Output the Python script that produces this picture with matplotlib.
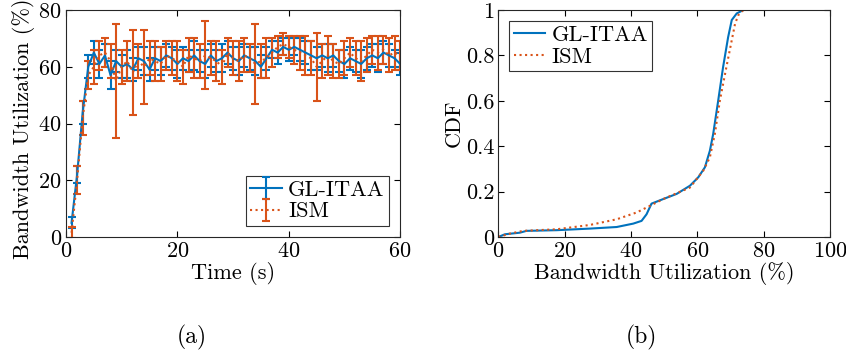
import matplotlib
matplotlib.use('Agg')
import matplotlib.pyplot as plt
from matplotlib.ticker import FormatStrFormatter

plt.rcParams['font.family'] = ['cmr10', 'DejaVu Serif']
plt.rcParams['mathtext.fontset'] = 'cm'
plt.rcParams['axes.formatter.use_mathtext'] = True
plt.rcParams['font.size'] = 16

BLUE = '#0072BD'
ORANGE = '#D95319'

# (a) bandwidth utilization over time
time_s = list(range(1, 61))
gl_mean = [5, 22, 44, 60, 65, 61, 64, 57, 62, 60, 61, 59, 63, 62, 59, 63, 62, 64, 63, 61,
           63, 62, 64, 62, 61, 64, 62, 63, 65, 63, 62, 64, 63, 62, 60, 63, 66, 65, 67, 66,
           67, 66, 65, 64, 63, 64, 63, 64, 62, 61, 63, 62, 61, 63, 64, 63, 65, 64, 63, 61]
gl_err = [2, 3, 4, 4, 4, 5, 4, 5, 4, 4, 5, 4, 4, 5, 4, 4, 5, 4, 4, 5,
          4, 4, 5, 4, 5, 4, 4, 5, 4, 4, 5, 4, 4, 5, 4, 4, 3, 4, 3, 4,
          3, 4, 4, 5, 4, 4, 5, 4, 4, 5, 4, 4, 5, 4, 4, 5, 4, 4, 3, 4]
ism_mean = [1.5, 20, 42, 57, 60, 64, 65, 62, 55, 60, 62, 58, 62, 60, 63, 62, 61, 64, 63, 62,
            60, 64, 63, 62, 64, 63, 62, 60, 65, 63, 62, 64, 63, 61, 62, 63, 65, 67, 68, 67,
            66, 65, 64, 63, 60, 62, 64, 62, 61, 63, 65, 63, 62, 64, 66, 65, 66, 64, 65, 64]
ism_err = [2, 5, 6, 5, 6, 5, 5, 6, 20, 6, 7, 15, 6, 13, 6, 7, 6, 5, 6, 7,
           6, 6, 7, 6, 12, 6, 7, 6, 5, 6, 7, 6, 5, 14, 6, 7, 5, 4, 4, 4,
           5, 6, 7, 6, 12, 6, 7, 6, 5, 6, 5, 6, 7, 6, 5, 6, 5, 6, 6, 5]

# (b) CDF of bandwidth utilization
gl_cdf_x = [0, 2, 6.5, 8.5, 17.6, 27.6, 35.7, 40.7, 43.2, 44.7, 46.2, 49.7, 53.8, 57.8,
            60.3, 62.3, 63.8, 64.8, 66.3, 67.8, 69.3, 70.4, 71.9, 73.9]
gl_cdf_y = [0, 0.012, 0.019, 0.027, 0.03, 0.037, 0.044, 0.059, 0.071, 0.1, 0.147, 0.167,
            0.19, 0.226, 0.263, 0.307, 0.38, 0.454, 0.6, 0.75, 0.88, 0.956, 0.985, 1.0]
ism_cdf_x = [0, 3.5, 7.5, 17.6, 27.6, 35.7, 41.7, 45.7, 49.7, 57.8, 61.8, 63.8, 65.3,
             66.8, 68.8, 70.4, 71.4, 72.4, 73.9]
ism_cdf_y = [0, 0.015, 0.027, 0.034, 0.053, 0.078, 0.108, 0.137, 0.167, 0.218, 0.292,
             0.351, 0.454, 0.6, 0.75, 0.867, 0.94, 0.978, 1.0]

fig = plt.figure(figsize=(8.46, 3.58), dpi=100)
ax1 = fig.add_axes([0.078, 0.338, 0.395, 0.634])
ax2 = fig.add_axes([0.589, 0.338, 0.392, 0.634])

ax1.errorbar(time_s, gl_mean, yerr=gl_err, color=BLUE, lw=1.5, capsize=3,
             elinewidth=1.5, capthick=1.5, label='GL-ITAA')
ax1.errorbar(time_s, ism_mean, yerr=ism_err, color=ORANGE, ls=':', lw=1.5, capsize=3,
             elinewidth=1.5, capthick=1.5, label='ISM')
ax1.set_xlim(0, 60)
ax1.set_ylim(0, 80)
ax1.set_xticks([0, 20, 40, 60])
ax1.set_yticks([0, 20, 40, 60, 80])
ax1.set_xlabel('Time (s)', labelpad=1)
ax1.set_ylabel('Bandwidth Utilization (%)', fontsize=16)
ax1.yaxis.set_label_coords(-0.093, 0.475)
leg1 = ax1.legend(loc='lower right', fancybox=False, edgecolor='black',
                  handlelength=1.4, handletextpad=0.3, borderaxespad=0.5,
                  borderpad=0.2, labelspacing=0.1)
leg1.get_frame().set_linewidth(0.8)

ax2.plot(gl_cdf_x, gl_cdf_y, color=BLUE, lw=1.5, label='GL-ITAA')
ax2.plot(ism_cdf_x, ism_cdf_y, color=ORANGE, ls=':', lw=1.5, label='ISM')
ax2.set_xlim(0, 100)
ax2.set_ylim(0, 1)
ax2.set_xticks([0, 20, 40, 60, 80, 100])
ax2.set_yticks([0, 0.2, 0.4, 0.6, 0.8, 1])
ax2.yaxis.set_major_formatter(FormatStrFormatter('%g'))
ax2.set_xlabel('Bandwidth Utilization (%)', labelpad=1)
ax2.set_ylabel('CDF')
ax2.yaxis.set_label_coords(-0.105, 0.5)
leg2 = ax2.legend(loc='upper left', fancybox=False, edgecolor='black',
                  handlelength=1.4, handletextpad=0.3, borderaxespad=0.5,
                  borderpad=0.2, labelspacing=0.1)
leg2.get_frame().set_linewidth(0.8)

for ax in (ax1, ax2):
    ax.tick_params(direction='in', top=True, right=True, length=4, width=0.8,
                   labelsize=16, pad=3)
    for s in ax.spines.values():
        s.set_linewidth(0.8)
        s.set_color('#262626')

fig.text(192 / 846, 1 - 337 / 358, '(a)', ha='center', va='center', fontsize=17)
fig.text(641 / 846, 1 - 337 / 358, '(b)', ha='center', va='center', fontsize=17)

fig.savefig('out.png', dpi=100)
